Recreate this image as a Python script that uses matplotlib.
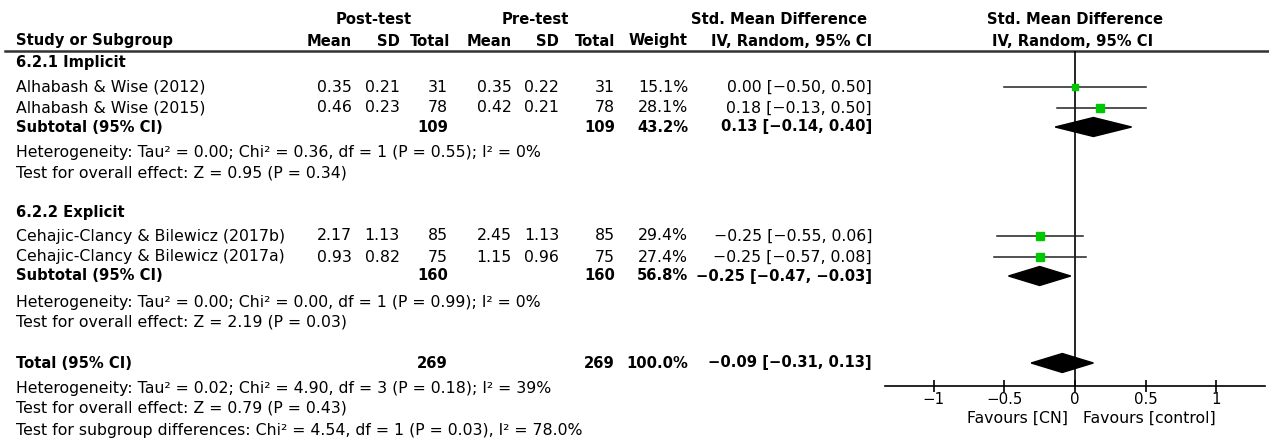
import matplotlib.pyplot as plt

# study-level data
studies = ["Alhabash & Wise (2012)", "Alhabash & Wise (2015)",
           "Cehajic-Clancy & Bilewicz (2017b)", "Cehajic-Clancy & Bilewicz (2017a)"]
group = [0, 0, 1, 1]
post_mean = [0.35, 0.46, 2.17, 0.93]
post_sd = [0.21, 0.23, 1.13, 0.82]
post_n = [31, 78, 85, 75]
pre_mean = [0.35, 0.42, 2.45, 1.15]
pre_sd = [0.22, 0.21, 1.13, 0.96]
pre_n = [31, 78, 85, 75]
weight = [15.1, 28.1, 29.4, 27.4]
smd = [0.00, 0.18, -0.25, -0.25]
ci_lo = [-0.50, -0.13, -0.55, -0.57]
ci_hi = [0.50, 0.50, 0.06, 0.08]

# subgroups
sub_names = ["6.2.1 Implicit", "6.2.2 Explicit"]
sub_post_n = [109, 160]
sub_pre_n = [109, 160]
sub_weight = [43.2, 56.8]
sub_smd = [0.13, -0.25]
sub_lo = [-0.14, -0.47]
sub_hi = [0.40, -0.03]
sub_het = ["Heterogeneity: Tau² = 0.00; Chi² = 0.36, df = 1 (P = 0.55); I² = 0%",
           "Heterogeneity: Tau² = 0.00; Chi² = 0.00, df = 1 (P = 0.99); I² = 0%"]
sub_z = ["Test for overall effect: Z = 0.95 (P = 0.34)",
         "Test for overall effect: Z = 2.19 (P = 0.03)"]

# overall
tot_post_n = 269
tot_pre_n = 269
tot_weight = 100.0
tot_smd = -0.09
tot_lo = -0.31
tot_hi = 0.13
tot_notes = ["Heterogeneity: Tau² = 0.02; Chi² = 4.90, df = 3 (P = 0.18); I² = 39%",
             "Test for overall effect: Z = 0.79 (P = 0.43)",
             "Test for subgroup differences: Chi² = 4.54, df = 1 (P = 0.03), I² = 78.0%"]

ticks = [-1, -0.5, 0, 0.5, 1]
tick_labels = ["−1", "−0.5", "0", "0.5", "1"]

W, H = 1269, 441
FS = 11.3   # regular text
FSB = 10.6  # bold text
GREEN = "#00c800"


def fnum(v):
    return f"{v:.2f}".replace("-", "−")


def fci(e, lo, hi):
    return f"{fnum(e)} [{fnum(lo)}, {fnum(hi)}]"


fig = plt.figure(figsize=(W / 100, H / 100), dpi=100)
ax = fig.add_axes([0, 0, 1, 1])
ax.set_xlim(0, W)
ax.set_ylim(H, 0)
ax.axis("off")

# forest axes: x from data scale, y in pixel rows
axis_y, top_y = 386, 51
fx = fig.add_axes([885 / W, (H - axis_y) / H, 380 / W, (axis_y - top_y) / H])
fx.set_xlim(-1.343, 1.343)
fx.set_ylim(axis_y, top_y)
fx.patch.set_alpha(0)
for s in ["left", "right", "top"]:
    fx.spines[s].set_visible(False)
fx.spines["bottom"].set_linewidth(1.2)
fx.set_yticks([])
fx.set_xticks(ticks)
fx.set_xticklabels(tick_labels, fontsize=10.8)
fx.tick_params(axis="x", direction="inout", length=9, width=1.2, pad=0)
fx.axvline(0, color="black", lw=1.2, zorder=1)

# column right edges (px)
col = dict(pm=352, psd=400, pn=448, qm=512, qsd=559, qn=615, w=688, ci=872)


def txt(x, y, s, ha="left", bold=False):
    ax.text(x, y, s, ha=ha, va="center", fontsize=FSB if bold else FS,
            fontweight="bold" if bold else "normal")


# headers
txt(374, 20, "Post-test", "center", True)
txt(535, 20, "Pre-test", "center", True)
txt(779, 20, "Std. Mean Difference", "center", True)
txt(1075, 20, "Std. Mean Difference", "center", True)
txt(16, 41, "Study or Subgroup", bold=True)
for k, s in [("pm", "Mean"), ("psd", "SD"), ("pn", "Total"), ("qm", "Mean"),
             ("qsd", "SD"), ("qn", "Total"), ("w", "Weight")]:
    txt(col[k] + (2 if k == "pn" else 0), 41, s, "right", True)
txt(col["ci"], 41, "IV, Random, 95% CI", "right", True)
txt(1073, 41, "IV, Random, 95% CI", "center", True)
ax.plot([5, W], [51, 51], color="#333333", lw=1.8)

# row layout (px)
title_y = [62, 213]
study_y = [87, 108, 236, 257]
sub_y = [127, 276]
het_y = [153, 302]
z_y = [173, 322]
total_y = 363
note_y = [388, 408, 430]

for g in range(2):
    txt(16, title_y[g], sub_names[g], bold=True)
    idx = [i for i in range(len(studies)) if group[i] == g]
    for i in idx:
        y = study_y[i]
        txt(16, y, studies[i])
        txt(col["pm"], y, f"{post_mean[i]:.2f}", "right")
        txt(col["psd"], y, f"{post_sd[i]:.2f}", "right")
        txt(col["pn"], y, str(post_n[i]), "right")
        txt(col["qm"], y, f"{pre_mean[i]:.2f}", "right")
        txt(col["qsd"], y, f"{pre_sd[i]:.2f}", "right")
        txt(col["qn"], y, str(pre_n[i]), "right")
        txt(col["w"], y, f"{weight[i]:.1f}%", "right")
        txt(col["ci"], y, fci(smd[i], ci_lo[i], ci_hi[i]), "right")
        fx.plot([ci_lo[i], ci_hi[i]], [y, y], color="#222222", lw=1.1, zorder=2)
        fx.plot(smd[i], y, marker="s", color=GREEN, mec=GREEN,
                markersize=1.0 * weight[i] ** 0.5, zorder=3)
    y = sub_y[g]
    txt(16, y, "Subtotal (95% CI)", bold=True)
    txt(col["pn"], y, str(sub_post_n[g]), "right", True)
    txt(col["qn"], y, str(sub_pre_n[g]), "right", True)
    txt(col["w"], y, f"{sub_weight[g]:.1f}%", "right", True)
    txt(col["ci"], y, fci(sub_smd[g], sub_lo[g], sub_hi[g]), "right", True)
    fx.fill([sub_lo[g], sub_smd[g], sub_hi[g], sub_smd[g]],
            [y, y - 9.5, y, y + 9.5], color="black", zorder=3)
    txt(16, het_y[g], sub_het[g])
    txt(16, z_y[g], sub_z[g])

y = total_y
txt(16, y, "Total (95% CI)", bold=True)
txt(col["pn"], y, str(tot_post_n), "right", True)
txt(col["qn"], y, str(tot_pre_n), "right", True)
txt(col["w"], y, f"{tot_weight:.1f}%", "right", True)
txt(col["ci"], y, fci(tot_smd, tot_lo, tot_hi), "right", True)
fx.fill([tot_lo, tot_smd, tot_hi, tot_smd], [y, y - 9.5, y, y + 9.5],
        color="black", zorder=3)
for s, yy in zip(tot_notes, note_y):
    txt(16, yy, s)

txt(1068, 418, "Favours [CN]", "right")
txt(1083, 418, "Favours [control]", "left")

fig.savefig("out.png", dpi=100)
